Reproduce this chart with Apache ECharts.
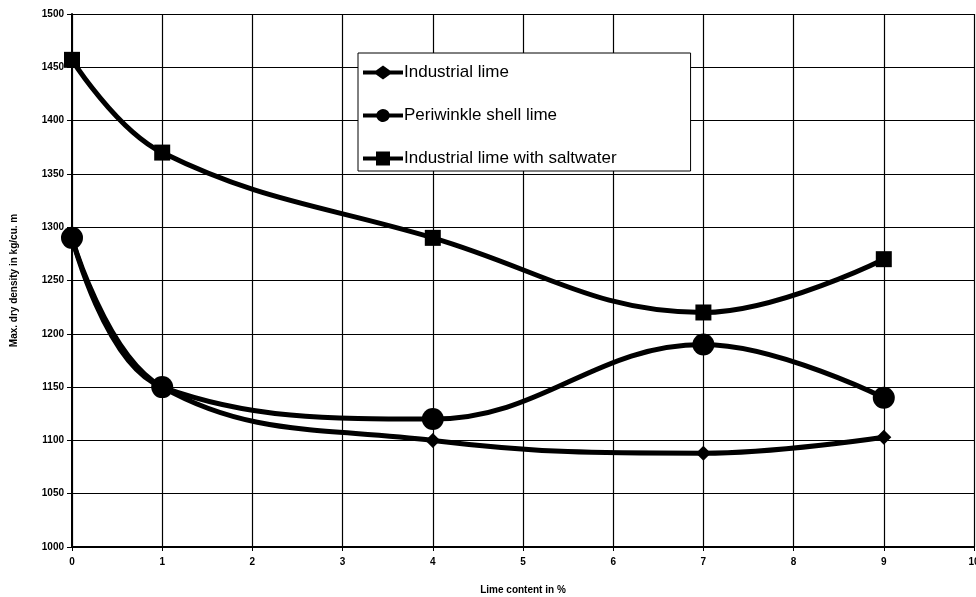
<!DOCTYPE html>
<html>
<head>
<meta charset="utf-8">
<script src="https://cdn.jsdelivr.net/npm/echarts@6/dist/echarts.min.js"></script>
<style>html,body{margin:0;padding:0;background:#fff}#c{width:976px;height:597px}</style>
</head>
<body>
<div id="c"></div>
<script>
const limeContent = [0, 1, 4, 7, 9];
const industrialLime = [1290, 1150, 1100, 1088, 1103];
const periwinkleLime = [1290, 1150, 1120, 1190, 1140];
const saltwaterLime = [1457, 1370, 1290, 1220, 1270];
const seriesNames = ['Industrial lime', 'Periwinkle shell lime', 'Industrial lime with saltwater'];

const pairs = (ys) => limeContent.map((x, i) => [x, ys[i]]);
const lineStyle = { color: '#000', width: 5 };
const iconDiamond = 'path://M0,5L13,5L20,0L27,5L40,5L40,9L27,9L20,14L13,9L0,9Z';
const iconCircle = 'path://M0,5L13.5,5A7,7,0,0,1,26.5,5L40,5L40,9L26.5,9A7,7,0,0,1,13.5,9L0,9Z';
const iconSquare = 'path://M0,5L13,5L13,0L27,0L27,5L40,5L40,9L27,9L27,14L13,14L13,9L0,9Z';
const chart = echarts.init(document.getElementById('c'), null, { renderer: 'canvas' });
const axisFont = { fontFamily: 'Liberation Sans', fontWeight: 'bold', fontSize: 10, color: '#000' };
chart.setOption({
  animation: false,
  backgroundColor: '#fff',
  grid: { left: 72, right: 2, top: 14, bottom: 50, containLabel: false, outerBoundsMode: 'none' },
  xAxis: {
    type: 'value', min: 0, max: 10, interval: 1,
    name: 'Lime content in %', nameLocation: 'middle', nameGap: 38,
    nameTextStyle: axisFont,
    axisLine: { show: true, lineStyle: { color: '#000', width: 2 } },
    axisTick: { show: true, inside: false, length: 4, lineStyle: { color: '#000' } },
    axisLabel: Object.assign({ margin: 10, formatter: (v) => String(v) }, axisFont),
    splitLine: { show: true, lineStyle: { color: '#000', width: 1.2 } }
  },
  yAxis: {
    type: 'value', min: 1000, max: 1500, interval: 50,
    name: 'Max. dry density in kg/cu. m', nameLocation: 'middle', nameGap: 53,
    nameTextStyle: axisFont,
    axisLine: { show: true, lineStyle: { color: '#000', width: 2 } },
    axisTick: { show: true, inside: false, length: 5, lineStyle: { color: '#000' } },
    axisLabel: Object.assign({ margin: 8, formatter: (v) => String(v) }, axisFont),
    splitLine: { show: true, lineStyle: { color: '#000', width: 1.2 } }
  },
  legend: {
    orient: 'vertical', left: 358, top: 53,
    data: [
      { name: seriesNames[0], icon: iconDiamond },
      { name: seriesNames[1], icon: iconCircle },
      { name: seriesNames[2], icon: iconSquare }
    ],
    itemWidth: 40, itemHeight: 14, itemGap: 26,
    padding: [11, 74, 4, 5],
    backgroundColor: '#fff', borderColor: '#000', borderWidth: 1,
    textStyle: { fontFamily: 'Liberation Sans', fontSize: 17, color: '#000', padding: [0, 0, 0, -4] }
  },
  series: [
    { name: seriesNames[0], type: 'line', smooth: 0.4, data: pairs(industrialLime),
      symbol: 'diamond', symbolSize: 15, itemStyle: { color: '#000' }, lineStyle: lineStyle, z: 3 },
    { name: seriesNames[1], type: 'line', smooth: 0.4, data: pairs(periwinkleLime),
      symbol: 'circle', symbolSize: 22, itemStyle: { color: '#000' }, lineStyle: lineStyle, z: 4 },
    { name: seriesNames[2], type: 'line', smooth: 0.4, data: pairs(saltwaterLime),
      symbol: 'rect', symbolSize: 16, itemStyle: { color: '#000' }, lineStyle: lineStyle, z: 5 }
  ]
});
</script>
</body>
</html>
